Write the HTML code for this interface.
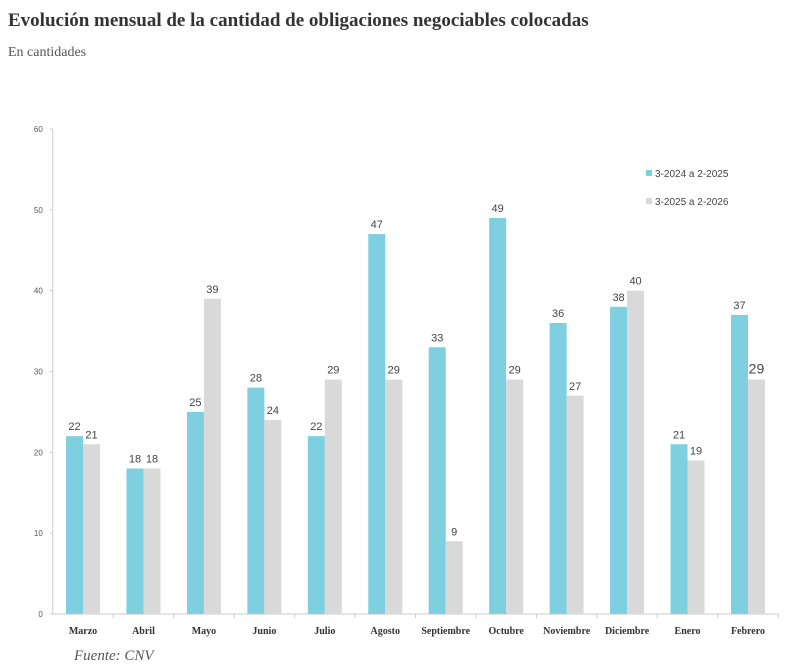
<!DOCTYPE html>
<html><head><meta charset="utf-8"><style>
body{margin:0;background:#fff;width:800px;height:669px;overflow:hidden;font-family:"Liberation Serif",serif}
svg{position:absolute;left:0;top:0}
</style></head><body>
<svg width="800" height="669">
<text x="8" y="26" font-family="Liberation Serif" font-weight="bold" font-size="19" fill="#333">Evolución mensual de la cantidad de obligaciones negociables colocadas</text>
<text x="8" y="56" font-family="Liberation Serif" font-size="14" fill="#555">En cantidades</text>
<g id="plot"></g>
<rect x="646" y="170" width="6" height="6" fill="#7ecfe0"/>
<text x="655" y="177" font-family="Liberation Sans" font-size="10" fill="#444">3-2024 a 2-2025</text>
<rect x="646" y="198" width="6" height="6" fill="#d9d9d9"/>
<text x="655" y="205" font-family="Liberation Sans" font-size="10" fill="#444">3-2025 a 2-2026</text>
<text x="74" y="660" font-family="Liberation Serif" font-style="italic" font-size="15" fill="#555">Fuente: CNV</text>
</svg>
<script>
const categories=["Marzo","Abril","Mayo","Junio","Julio","Agosto","Septiembre","Octubre","Noviembre","Diciembre","Enero","Febrero"];
const series2024=[22,18,25,28,22,47,33,49,36,38,21,37];
const series2025=[21,18,39,24,29,29,9,29,27,40,19,29];
const yTicks=[0,10,20,30,40,50,60];
const NS="http://www.w3.org/2000/svg";
const g=document.getElementById('plot');
const x0=52.8,x1=778.2,y0=614,y1=129,ymax=60;
const bw=(x1-x0)/categories.length;
const Y=v=>y0-(v/ymax)*(y0-y1);
const X=i=>x0+bw*i+bw/2;
function mk(t,a){const e=document.createElementNS(NS,t);for(const k in a)e.setAttribute(k,a[k]);g.appendChild(e);return e;}
let ax=mk('line',{x1:x0,y1:y1,x2:x0,y2:y0,stroke:'#ccc'});


let bx=mk('line',{x1:x0,y1:y0,x2:x1,y2:y0,stroke:'#ccc'});


yTicks.forEach(v=>{
 let t=mk('text',{x:x0-10,y:Y(v)+3,'text-anchor':'end','font-family':'Liberation Sans','font-size':'8',fill:'#555'});
 t.textContent=v;
 
 
 mk('line',{x1:x0-3,x2:x0,y1:Y(v),y2:Y(v),stroke:'#ccc'});
});
categories.forEach((c,i)=>{
 const cx=X(i);
 mk('line',{x1:x0+bw*(i+1),x2:x0+bw*(i+1),y1:y0,y2:y0+4,stroke:'#ccc'});
 let b1=mk('rect',{x:cx-17,y:Y(series2024[i]),width:17,height:y0-Y(series2024[i]),fill:'#7ecfe0'});
 
 
 let b2=mk('rect',{x:cx,y:Y(series2025[i]),width:17,height:y0-Y(series2025[i]),fill:'#d9d9d9'});
 
 
 let l1=mk('text',{x:cx-8.5,y:Y(series2024[i])-6,'text-anchor':'middle','font-family':'Liberation Sans','font-size':'11',fill:'#444'});
 l1.textContent=series2024[i];
 
 
 let l2=mk('text',{x:cx+8.5,y:Y(series2025[i])-6,'text-anchor':'middle','font-family':'Liberation Sans','font-size':i==11?'14':'11',fill:'#444'});
 l2.textContent=series2025[i];
 
 
 let cl=mk('text',{x:cx,y:634,'text-anchor':'middle','font-family':'Liberation Serif','font-weight':'bold','font-size':'10',fill:'#333'});
 cl.textContent=c;
 
 
});
</script>
</body></html>
